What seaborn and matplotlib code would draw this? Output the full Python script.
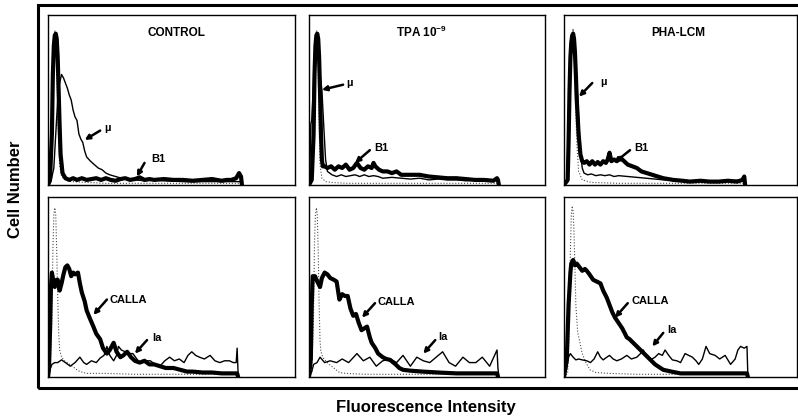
import numpy as np
import pandas as pd
import seaborn as sns
import matplotlib.pyplot as plt
from matplotlib.patches import Rectangle

# histogram traces: (channel, % of panel height)
# top row: negative control (dotted), mu (thin), B1 (thick)
ctl_neg = [(0, 0), (2, 1), (4, 20), (5, 60), (6, 85), (7, 91), (8, 88), (9, 70), (10, 40), (12, 12),
           (14, 5), (18, 3), (25, 2), (40, 1.5), (60, 1), (100, 1), (150, 1), (200, 1), (201, 0)]
ctl_mu = [(0, 0), (3, 2), (6, 10), (8, 30), (10, 50), (12, 60), (14, 65), (16, 63), (18, 60), (20, 57),
          (22, 53), (24, 50), (26, 44), (28, 40), (30, 38), (32, 30), (34, 27), (36, 25), (38, 20),
          (40, 16.5), (44, 14), (48, 12), (52, 10), (56, 9), (60, 7), (64, 6), (70, 5), (76, 4),
          (82, 3.5), (90, 3), (100, 2.5), (110, 3), (120, 2.5), (140, 2), (160, 2), (180, 2), (200, 2), (201, 0)]
ctl_b1 = [(0, 0), (2, 3), (4, 30), (5, 65), (6, 82), (7, 88), (8, 89), (9, 86), (10, 75), (11, 55),
          (12, 35), (13, 18), (15, 7), (18, 4), (22, 3), (26, 4), (30, 3), (35, 4), (40, 3), (45, 3.5),
          (50, 4), (55, 3), (60, 4), (65, 3), (70, 2.5), (75, 3.5), (80, 4), (85, 3), (90, 3.5),
          (95, 4.5), (100, 3), (105, 3.5), (110, 3), (120, 3.5), (130, 3), (140, 3), (150, 2.5),
          (160, 3), (170, 3.5), (180, 2.5), (185, 3), (190, 3), (195, 4), (198, 7), (200, 5), (201, 0)]

tpa_neg = [(0, 0), (3, 2), (5, 20), (6, 60), (7, 85), (8, 91), (9, 88), (10, 65), (11, 35), (12, 12),
           (14, 4), (18, 2), (25, 1.5), (40, 1), (80, 1), (150, 1), (205, 1), (206, 0)]
tpa_mu = [(0, 0), (1, 10), (2, 36), (3, 38), (4, 50), (6, 75), (7, 84), (8, 88), (9, 85), (10, 78),
          (12, 65), (14, 56), (16, 35), (18, 15), (20, 8), (25, 6), (30, 5), (35, 6), (40, 5),
          (45, 5.5), (50, 6), (55, 5), (60, 6), (65, 5), (70, 5.5), (75, 5), (80, 4), (90, 4.5),
          (100, 4), (110, 3.5), (120, 4), (130, 3), (140, 3.5), (150, 3), (160, 3), (170, 2.5),
          (180, 3), (190, 2.5), (200, 2.5), (205, 3), (206, 0)]
tpa_b1 = [(0, 0), (3, 3), (5, 30), (6, 65), (7, 82), (8, 88), (9, 89), (10, 86), (11, 75), (12, 55),
          (13, 30), (14, 15), (15, 11), (17, 11), (20, 10), (24, 11), (28, 9), (32, 11), (36, 10),
          (40, 12), (44, 9), (48, 10), (52, 13), (56, 10), (60, 9), (64, 11), (68, 10), (70, 13),
          (72, 11), (76, 9), (80, 8), (85, 8), (90, 7), (95, 8), (100, 6), (110, 6), (120, 6),
          (130, 5), (140, 4.5), (150, 4), (160, 4), (170, 3.5), (180, 3), (190, 3), (200, 2.5),
          (204, 4), (205, 3), (206, 0)]

pha_neg = [(0, 0), (4, 2), (6, 30), (8, 75), (9, 90), (10, 92), (11, 88), (12, 60), (14, 25), (16, 8),
           (20, 3), (30, 1.5), (60, 1), (120, 1), (199, 1), (200, 0)]
pha_mu = [(0, 0), (4, 2), (5, 30), (6, 60), (7, 68), (8, 80), (9, 88), (10, 90), (11, 86), (12, 75),
          (14, 58), (15, 52), (16, 40), (18, 20), (20, 10), (22, 7), (26, 6), (30, 6.5), (35, 5.5),
          (40, 6), (45, 5.5), (50, 6), (55, 5), (60, 5.5), (70, 5), (80, 4.5), (90, 4), (100, 3.5),
          (110, 3), (120, 3), (140, 2.5), (160, 2.5), (180, 2.5), (198, 3), (199, 0)]
pha_b1 = [(0, 0), (4, 3), (5, 25), (6, 55), (7, 75), (8, 84), (9, 88), (10, 89), (11, 86), (12, 78),
          (13, 65), (14, 50), (16, 30), (18, 18), (20, 14), (22, 13), (25, 14), (28, 12), (31, 14),
          (34, 12), (37, 13.5), (40, 12), (43, 14), (46, 13), (48, 15), (50, 19), (52, 14), (55, 15),
          (58, 14), (62, 16), (66, 14), (70, 12), (75, 11), (80, 10), (85, 8), (91, 7), (100, 5.5),
          (109, 4), (120, 3), (130, 2.5), (138, 2), (150, 2.5), (160, 2), (170, 2), (180, 2.5),
          (190, 2), (196, 3), (198, 5), (199, 0)]

# bottom row: negative control (dotted), CALLA (thick), Ia (thin)
ctl_neg2 = [(0, 0), (2, 2), (4, 30), (5, 70), (6, 90), (7, 94), (8, 90), (9, 70), (10, 45), (11, 25),
            (12, 15), (14, 11), (17, 9), (20, 8), (25, 6), (30, 4), (33, 3), (40, 2), (60, 2),
            (90, 1.5), (130, 1.5), (180, 1.5), (196, 1.5), (197, 0)]
ctl_calla = [(0, 0), (1, 5), (2, 25), (3, 50), (4, 58), (5, 55), (7, 50), (9, 54), (10, 54), (12, 48),
             (14, 52), (16, 57), (18, 61), (20, 62), (22, 60), (24, 56), (26, 58), (28, 57), (31, 58),
             (33, 52), (35, 47), (38, 42), (40, 37), (43, 33), (47, 28), (50, 24), (54, 21), (57, 16),
             (61, 13), (64, 15), (68, 19), (71, 14), (75, 11), (78, 12), (82, 14), (86, 11), (90, 9),
             (95, 8), (100, 9), (105, 7), (110, 7), (116, 6), (122, 5), (130, 5), (137, 4), (144, 3),
             (150, 3), (160, 2.5), (170, 2.5), (180, 2), (190, 2), (196, 2), (197, 0)]
ctl_ia = [(0, 0), (2, 4), (4, 7), (7, 8), (10, 8), (14, 9.5), (18, 8), (23, 6), (28, 8), (33, 11),
          (37, 8), (40, 7), (45, 9), (50, 8), (54, 10.5), (58, 12), (61, 17), (64, 12), (68, 9),
          (71, 12), (73, 17), (76, 15), (80, 14), (84, 13), (88, 13), (92, 10), (95, 8), (100, 9),
          (106, 9), (111, 7), (116, 6), (121, 9), (126, 11), (131, 9), (136, 10), (141, 8), (145, 12),
          (149, 14), (153, 12), (157, 11), (162, 10), (168, 12), (173, 9), (178, 8), (183, 9),
          (188, 9), (192, 8), (195, 8), (196, 16), (197, 2), (198, 0)]

tpa_neg2 = [(0, 0), (3, 2), (5, 35), (6, 75), (7, 90), (8, 94), (9, 90), (10, 70), (11, 40), (12, 20),
            (13, 14), (15, 11), (18, 9), (22, 7), (27, 5), (33, 2.5), (40, 2), (60, 1.5), (100, 1.5),
            (150, 1.5), (204, 1.5), (205, 0)]
tpa_calla = [(0, 0), (2, 10), (3, 40), (4, 56), (5, 55), (6.5, 56), (9, 53), (12, 50), (14, 55),
             (17, 58), (20, 57), (23, 55), (27, 54), (30, 53), (33, 43), (36, 46), (39, 45), (42, 45),
             (45, 38), (48, 34), (51, 35), (54, 30), (57, 26), (60, 27), (63, 28), (66, 22), (68, 19),
             (72, 16), (75, 13), (80, 11), (84, 10), (88, 9.5), (94, 7), (98, 5), (102, 4), (110, 3.5),
             (123, 3), (140, 2.5), (160, 2), (180, 2), (204, 2), (205, 0)]
tpa_ia = [(0, 0), (3, 3), (5, 7), (8.7, 8), (12, 11), (17, 8), (23, 9), (30, 8), (36, 10), (43, 8),
          (52, 13), (59, 9), (66, 11), (73, 6), (80, 9), (88, 10), (95, 8), (102, 12), (110, 6),
          (117, 11), (124, 9), (131, 8), (145, 14), (152, 8), (159, 6), (167, 11), (174, 8), (181, 8),
          (188, 11), (196, 6), (204, 15), (205, 5), (206, 0)]

pha_neg2 = [(0, 0), (4, 2), (6, 30), (7, 70), (8, 90), (9, 95), (10, 92), (11, 80), (12, 60), (13, 40),
            (15, 25), (17.5, 19), (20, 13), (24, 8), (28.6, 4), (35, 2.5), (50, 2), (80, 1.5),
            (120, 1.5), (200, 1.5), (201, 0)]
pha_calla = [(0, 0), (3, 10), (5, 40), (7, 58), (8, 63), (10, 65), (12, 62), (14, 63), (17, 61),
             (20, 59), (23, 60), (25, 59), (28, 57), (32, 54), (36, 53), (40, 52), (43, 48), (47, 44),
             (50, 40), (53, 36), (56, 33), (60, 30), (64, 27), (69, 22), (72, 21), (76, 19), (80, 17),
             (84, 15), (88, 13), (95, 9.5), (100, 7), (109, 4), (118, 3), (128, 2), (150, 2),
             (175, 2), (201, 2), (202, 0)]
pha_ia = [(0, 0), (3, 5), (5, 11), (7, 13), (10, 11), (13, 9.5), (16, 10), (20, 9.5), (25, 9), (29, 8),
          (33, 10), (37, 14), (40, 11), (43, 9.5), (47, 11), (50, 12), (54, 10), (58, 9), (63, 10),
          (69, 12), (74, 10), (80, 11), (84, 13), (87, 15), (91, 11), (95, 9.5), (100, 11), (104, 13),
          (108, 12), (111, 15), (115, 12), (119, 9.5), (124, 9), (128, 8), (133, 13), (137, 12),
          (141, 11), (145, 9), (148, 7), (152, 10), (156, 17), (160, 13), (166, 12), (171, 10),
          (177, 12), (183, 7), (188, 10), (191, 15), (194, 17), (198, 16), (201, 17), (202, 0)]

titles = ['CONTROL', 'TPA 10$^{-9}$', 'PHA-LCM']
top_labels = ['µ', 'B1']
bottom_labels = ['CALLA', 'Ia']

sns.set_style('white')
plt.rcParams['font.family'] = ['Liberation Sans', 'DejaVu Sans']
plt.rcParams['font.weight'] = 'bold'
plt.rcParams['text.color'] = 'black'
plt.rcParams['mathtext.fontset'] = 'custom'
plt.rcParams['mathtext.rm'] = 'Liberation Sans:bold'
plt.rcParams['mathtext.default'] = 'rm'

fig = plt.figure(figsize=(7.98, 4.2), dpi=100)

# panel boxes in figure fractions
lefts = [0.0602, 0.3872, 0.7068]
widths = [0.3095, 0.2957, 0.292]
top_row = (0.5595, 0.4048)
bot_row = (0.1024, 0.4286)

# (dotted, thin, thick) per panel
top_data = [(ctl_neg, ctl_mu, ctl_b1), (tpa_neg, tpa_mu, tpa_b1), (pha_neg, pha_mu, pha_b1)]
bot_data = [(ctl_neg2, ctl_ia, ctl_calla), (tpa_neg2, tpa_ia, tpa_calla), (pha_neg2, pha_ia, pha_calla)]

# arrow (tail, head) and label position per panel
top_arrows = [
    [((54, 32), (38, 26.5), (58, 33.5)), ((100, 13), (92, 5), (107, 15.5))],
    [((37, 59), (14, 56), (40, 60)), ((66, 20.5), (50, 13), (71, 22))],
    [((31, 60), (16.5, 52), (40, 60.5)), ((72.5, 20.5), (55, 13), (77, 22))],
]
bot_arrows = [
    [((61, 43), (47, 34.5), (64, 43)), ((102.6, 20.5), (90, 13), (108, 21.7))],
    [((71.6, 41), (57.5, 33), (74, 41.7)), ((137, 20.5), (124, 13), (140, 22))],
    [((70, 41), (56, 33), (74, 42)), ((109, 24.5), (97, 17), (113, 26))],
]
title_x = [133, 122, 126]


def draw(ax, neg, thin, thick):
    for pts, lw, ls, col in [(neg, 0.8, ':', '0.3'), (thin, 1.0, '-', 'k'), (thick, 3.0, '-', 'k')]:
        a = np.array(pts).T
        sns.lineplot(x=a[0], y=a[1], ax=ax, color=col, linewidth=lw, linestyle=ls, sort=False)
    ax.set_xlim(0, 256)
    ax.set_ylim(0, 100)
    ax.set_xticks([])
    ax.set_yticks([])
    ax.set_xlabel('')
    ax.set_ylabel('')
    for s in ax.spines.values():
        s.set_visible(True)
        s.set_color('k')
        s.set_linewidth(1.0)


def arrows(ax, specs, labels):
    for (tail, head, txt), lab in zip(specs, labels):
        ax.annotate('', xy=head, xytext=tail,
                    arrowprops=dict(arrowstyle='-|>', lw=1.8, color='k', mutation_scale=7,
                                    shrinkA=0, shrinkB=0))
        ax.text(txt[0], txt[1], lab, fontsize=8, fontweight='bold', ha='left', va='center')


for i in range(3):
    ax = fig.add_axes([lefts[i], top_row[0], widths[i], top_row[1]])
    draw(ax, *top_data[i])
    arrows(ax, top_arrows[i], top_labels)
    ax.text(title_x[i], 89.5, titles[i], fontsize=8.5, fontweight='bold', ha='center', va='center')

    ax2 = fig.add_axes([lefts[i], bot_row[0], widths[i], bot_row[1]])
    draw(ax2, *bot_data[i])
    arrows(ax2, bot_arrows[i], bottom_labels)

# outer frame
fig.patches.append(Rectangle((0.0476, 0.0762), 1.0, 0.912, transform=fig.transFigure,
                             fill=False, edgecolor='k', linewidth=2.2))

fig.text(0.019, 0.55, 'Cell Number', rotation=90, fontsize=12, fontweight='bold',
         ha='center', va='center')
fig.text(0.534, 0.0286, 'Fluorescence Intensity', fontsize=12, fontweight='bold',
         ha='center', va='center')

fig.savefig('out.png', dpi=100)
